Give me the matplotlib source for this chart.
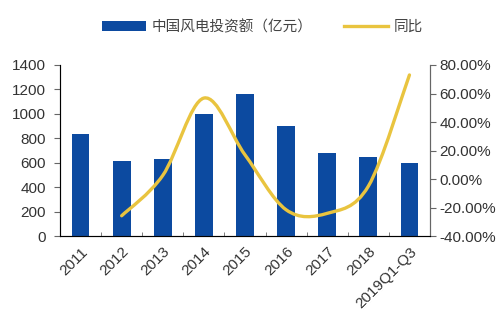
import numpy as np
import matplotlib
matplotlib.use("Agg")
import matplotlib.pyplot as plt
from matplotlib.path import Path
from matplotlib.patches import PathPatch
from matplotlib.lines import Line2D
from matplotlib.patches import Patch

plt.rcParams['font.family'] = ['Liberation Sans', 'Noto Sans CJK SC', 'DejaVu Sans']

years = ["2011", "2012", "2013", "2014", "2015", "2016", "2017", "2018", "2019Q1-Q3"]
invest = [832, 618, 635, 996, 1165, 900, 684, 645, 602]
yoy_years = [1, 2, 3, 4, 5, 6, 7, 8]
yoy = [-25.7, 2.6, 56.8, 17.0, -21.5, -24.0, -5.0, 73.0]

BLUE = "#0C4AA0"
GOLD = "#E9C43F"
GRAY = "#333333"
FS = 11


def smooth_path(xs, ys):
    # Catmull-Rom style bezier, like a spreadsheet "smoothed line"
    pts = list(zip(xs, ys))
    verts = [pts[0]]
    codes = [Path.MOVETO]
    n = len(pts)
    for i in range(n - 1):
        p0 = pts[i - 1] if i > 0 else pts[i]
        p1 = pts[i]
        p2 = pts[i + 1]
        p3 = pts[i + 2] if i + 2 < n else pts[i + 1]
        c1 = (p1[0] + (p2[0] - p0[0]) / 6, p1[1] + (p2[1] - p0[1]) / 6)
        c2 = (p2[0] - (p3[0] - p1[0]) / 6, p2[1] - (p3[1] - p1[1]) / 6)
        verts += [c1, c2, p2]
        codes += [Path.CURVE4] * 3
    return Path(verts, codes)


fig = plt.figure(figsize=(5, 3.17), dpi=100)
ax = fig.add_axes([0.12, 0.255, 0.74, 0.54])
x = np.arange(len(years))
ax.bar(x, invest, width=0.43, color=BLUE, zorder=2)
ax.set_xlim(-0.5, len(years) - 0.5)
ax.set_ylim(0, 1400)
ax.set_yticks(range(0, 1401, 200))
ax.set_xticks(x)
ax.set_xticklabels(years, rotation=45, ha="right", rotation_mode="anchor", fontsize=FS, color=GRAY)
ax.set_xticks(np.arange(0.5, len(years) - 1, 1), minor=True)
ax.tick_params(axis="x", which="major", length=0, pad=6)
ax.tick_params(axis="x", which="minor", length=3, direction="in", color="#666666")
ax.tick_params(axis="y", labelsize=FS, colors=GRAY, length=4, color="#666666", direction="out", pad=6)
for s in ["left", "bottom", "right"]:
    ax.spines[s].set_color("#666666")
ax.spines["top"].set_visible(False)

ax2 = ax.twinx()
ax2.set_ylim(-40, 80)
ax2.set_yticks(range(-40, 81, 20))
ax2.set_yticklabels([f"{v:.2f}%" for v in range(-40, 81, 20)])
ax2.tick_params(axis="y", labelsize=FS, colors=GRAY, length=4, color="#666666", direction="out", pad=3)
ax2.spines["top"].set_visible(False)
ax2.spines["right"].set_color("#666666")
ax2.add_patch(PathPatch(smooth_path(yoy_years, yoy), facecolor="none",
                        edgecolor=GOLD, lw=2.4, capstyle="round", zorder=3))

handles = [Patch(facecolor=BLUE), Line2D([0], [0], color=GOLD, lw=2.4)]
labels = ["中国风电投资额（亿元）", "同比"]
fig.legend(handles, labels, loc="center", bbox_to_anchor=(0.525, 0.915), ncol=2,
           frameon=False, prop={"family": ["Noto Sans CJK SC"], "size": 10.5},
           labelcolor="#444444", handlelength=3.0, handleheight=0.6,
           columnspacing=2.2, handletextpad=0.4)

fig.savefig("out.png", dpi=100)
